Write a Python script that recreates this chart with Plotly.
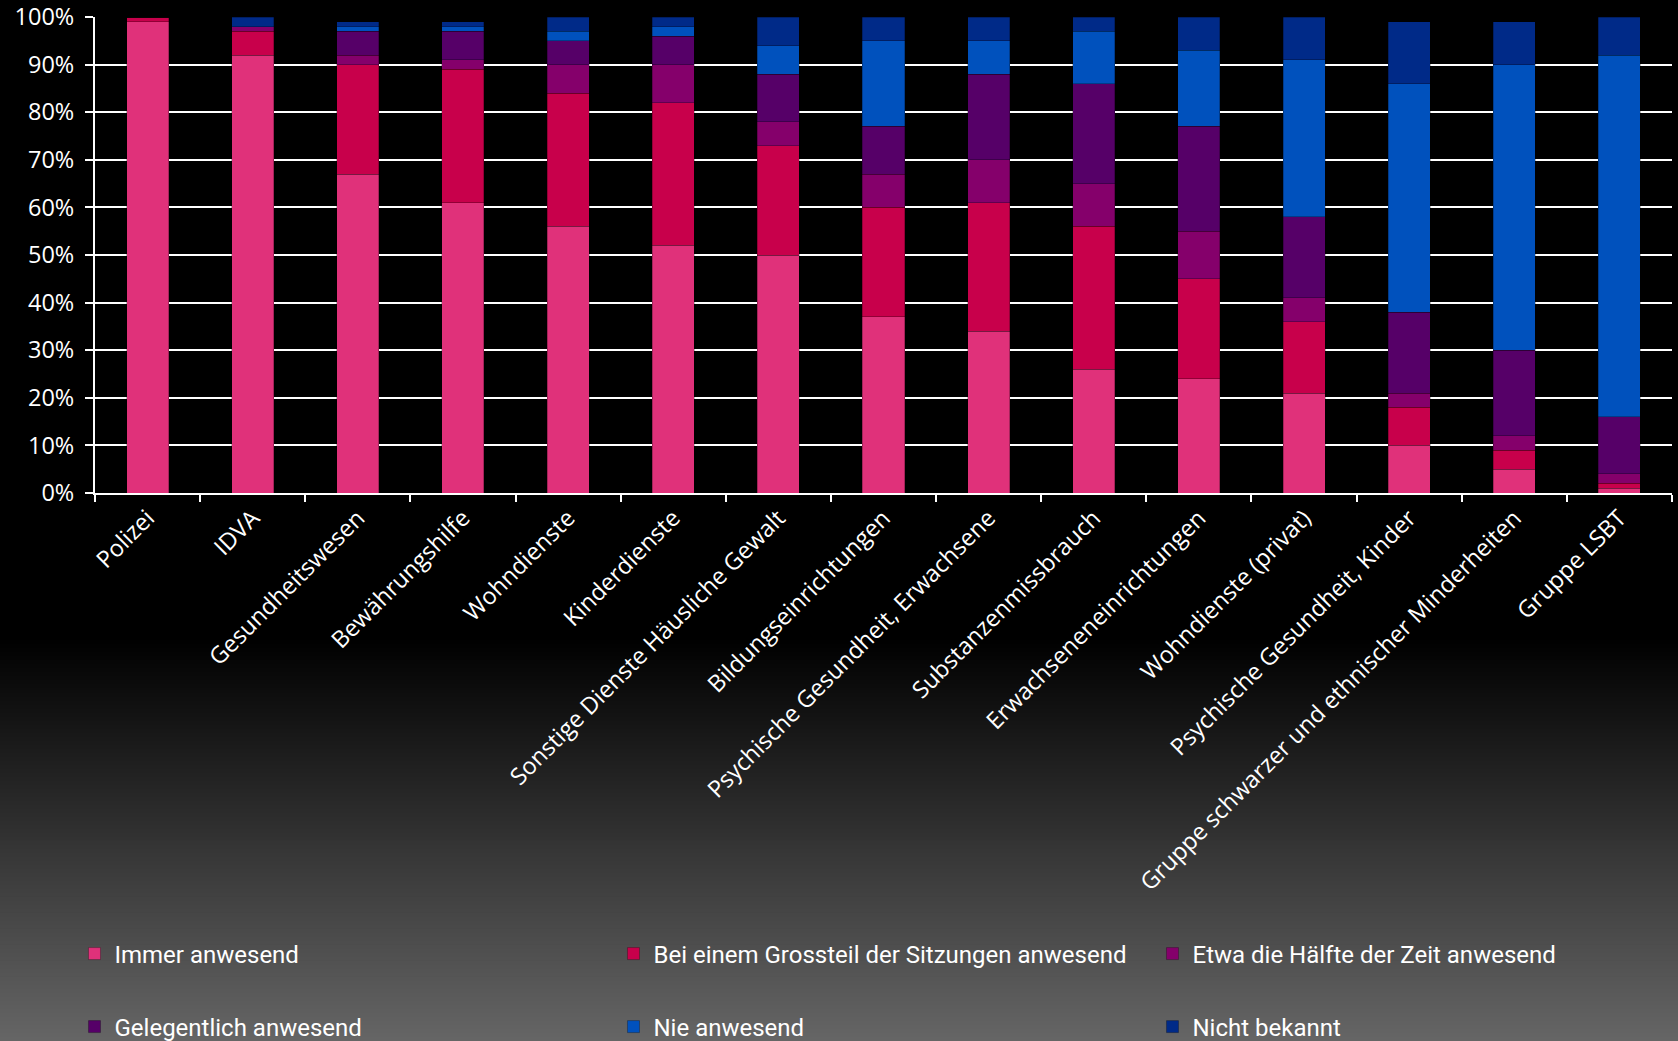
import plotly.graph_objects as go

categories = [
    "Polizei", "IDVA", "Gesundheitswesen", "Bewährungshilfe", "Wohndienste",
    "Kinderdienste", "Sonstige Dienste Häusliche Gewalt", "Bildungseinrichtungen",
    "Psychische Gesundheit, Erwachsene", "Substanzenmissbrauch",
    "Erwachseneneinrichtungen", "Wohndienste (privat)",
    "Psychische Gesundheit, Kinder", "Gruppe schwarzer und ethnischer Minderheiten",
    "Gruppe LSBT",
]

immer_anwesend = [99, 92, 67, 61, 56, 52, 50, 37, 34, 26, 24, 21, 10, 5, 1]
grossteil_anwesend = [1, 5, 23, 28, 28, 30, 23, 23, 27, 30, 21, 15, 8, 4, 1]
haelfte_anwesend = [0, 1, 2, 2, 6, 8, 5, 7, 9, 9, 10, 5, 3, 3, 2]
gelegentlich_anwesend = [0, 0, 5, 6, 5, 6, 10, 10, 18, 21, 22, 17, 17, 18, 12]
nie_anwesend = [0, 0, 1, 1, 2, 2, 6, 18, 7, 11, 16, 33, 48, 60, 76]
nicht_bekannt = [0, 2, 1, 1, 3, 2, 6, 5, 5, 3, 7, 9, 13, 9, 8]

series_names = [
    "Immer anwesend",
    "Bei einem Grossteil der Sitzungen anwesend",
    "Etwa die Hälfte der Zeit anwesend",
    "Gelegentlich anwesend",
    "Nie anwesend",
    "Nicht bekannt",
]
series_values = [immer_anwesend, grossteil_anwesend, haelfte_anwesend,
                 gelegentlich_anwesend, nie_anwesend, nicht_bekannt]
colors = ["#E0317A", "#C8004B", "#85006B", "#560068", "#0051BD", "#002A88"]
legend_ids = ["legend", "legend", "legend", "legend2", "legend2", "legend2"]

y_tick_values = list(range(0, 101, 10))
y_tick_labels = [f"{v}%" for v in y_tick_values]

W, H = 1678, 1041
L, R, T, B = 95, 6, 17, 548

fig = go.Figure()
for name, vals, col, lg in zip(series_names, series_values, colors, legend_ids):
    fig.add_trace(go.Bar(
        x=categories, y=vals, name=name,
        marker=dict(color=col, line=dict(color="rgba(0,0,0,0.45)", width=0.6)),
        legend=lg,
    ))

# background: black top, gradient to grey at the bottom
plot_h = H - T - B
def py(p):
    return (H - B - p) / plot_h

shapes = [dict(type="rect", xref="paper", yref="paper", x0=-0.1, x1=1.1,
               y0=py(H + 5), y1=py(-5), fillcolor="black", line=dict(width=0),
               layer="below")]
g0, g1 = 640, H
n = 100
for i in range(n):
    p0 = g0 + (g1 - g0) * i / n
    p1 = g0 + (g1 - g0) * (i + 1) / n + 0.8
    v = int(round(102 * (i + 0.5) / n))
    shapes.append(dict(type="rect", xref="paper", yref="paper", x0=-0.1, x1=1.1,
                       y0=py(p1), y1=py(p0), fillcolor=f"rgb({v},{v},{v})",
                       line=dict(width=0), layer="below"))

tick_font = dict(family="Open Sans, Lato, sans-serif", size=23.5, color="white")
legend_font = dict(family="Roboto, sans-serif", size=24, color="white")

fig.update_layout(
    width=W, height=H,
    margin=dict(l=L, r=R, t=T, b=B, autoexpand=False),
    barmode="stack",
    bargap=0.6,
    paper_bgcolor="black",
    plot_bgcolor="rgba(0,0,0,0)",
    shapes=shapes,
    xaxis=dict(
        type="category", tickangle=-45, tickfont=tick_font,
        showline=True, linecolor="white", linewidth=2,
        ticks="outside", tickson="boundaries", ticklen=7, tickwidth=2, tickcolor="white",
        showgrid=False, zeroline=False,
    ),
    yaxis=dict(
        range=[0, 100], tickmode="array", tickvals=y_tick_values, ticktext=y_tick_labels,
        tickfont=tick_font, showline=True, linecolor="white", linewidth=2,
        ticks="outside", ticklen=8, tickwidth=2, tickcolor="white",
        ticklabelstandoff=6,
        showgrid=True, gridcolor="white", gridwidth=2, zeroline=False,
    ),
    legend=dict(
        orientation="h", x=-0.013, xanchor="left", y=py(954), yanchor="middle",
        font=legend_font, bgcolor="rgba(0,0,0,0)", entrywidth=494,
        entrywidthmode="pixels", itemwidth=30, traceorder="normal",
    ),
    legend2=dict(
        orientation="h", x=-0.013, xanchor="left", y=py(1027), yanchor="middle",
        font=legend_font, bgcolor="rgba(0,0,0,0)", entrywidth=494,
        entrywidthmode="pixels", itemwidth=30, traceorder="normal",
    ),
)

fig.write_html("out.html")
